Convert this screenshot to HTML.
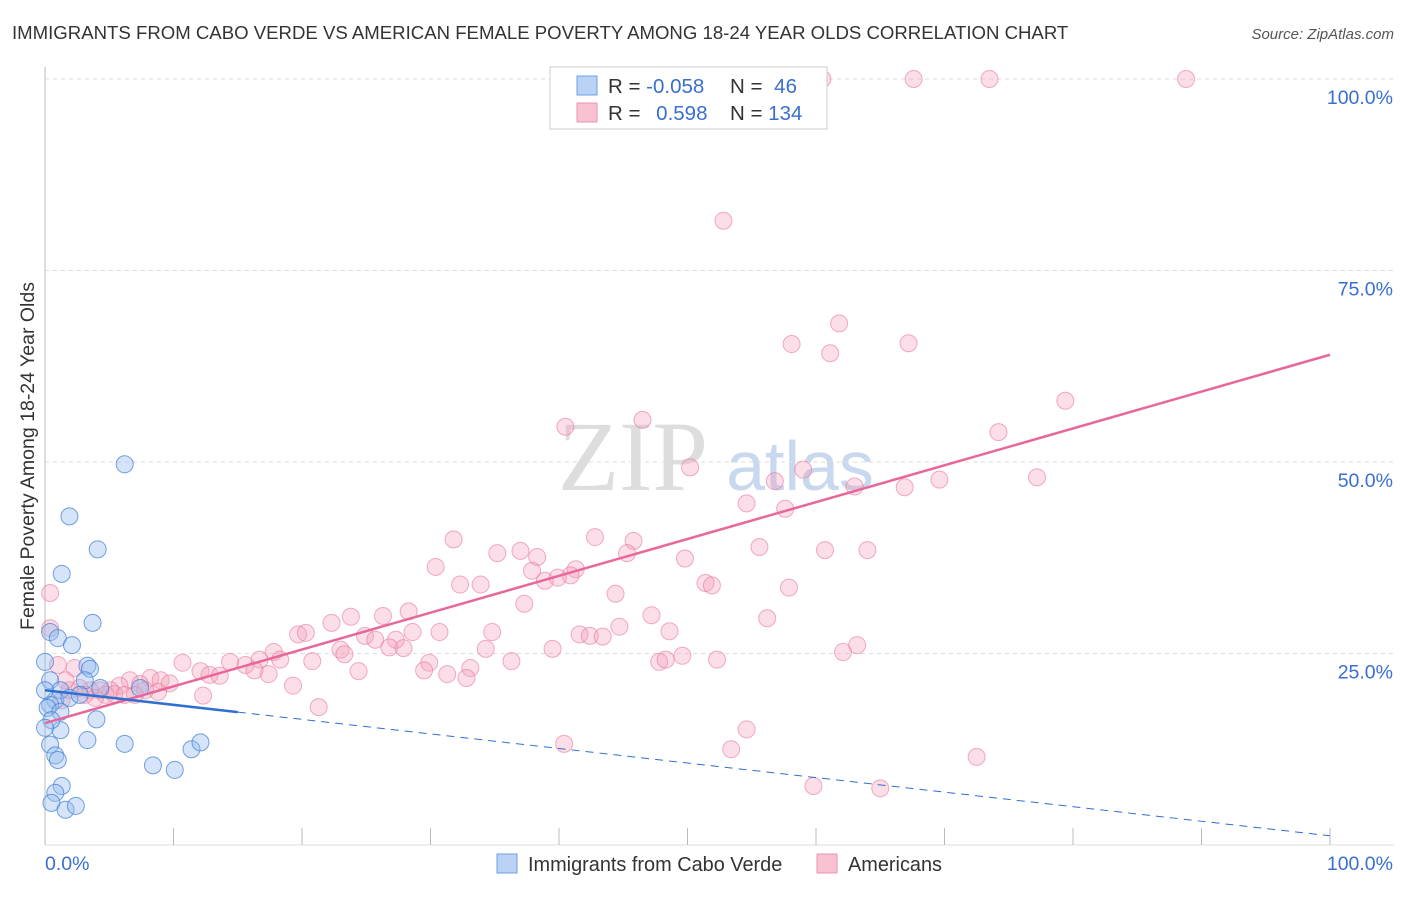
<!DOCTYPE html>
<html><head><meta charset="utf-8"><style>
body{margin:0;background:#fff;font-family:"Liberation Sans",sans-serif}
</style></head><body>
<svg id="c" width="1406" height="892" xmlns="http://www.w3.org/2000/svg">
<text x="12" y="39" font-size="18.6" fill="#333">IMMIGRANTS FROM CABO VERDE VS AMERICAN FEMALE POVERTY AMONG 18-24 YEAR OLDS CORRELATION CHART</text>
<text x="1394" y="39" font-size="15" fill="#555" font-style="italic" text-anchor="end">Source: ZipAtlas.com</text>
<text x="633" y="490" font-size="100" fill="#ddd" font-family="Liberation Serif,serif" text-anchor="middle">ZIP</text>
<text x="800" y="490" font-size="70" fill="#c8d8ee" text-anchor="middle">atlas</text>
<text transform="translate(34,456) rotate(-90)" font-size="19.5" fill="#333" text-anchor="middle">Female Poverty Among 18-24 Year Olds</text>
<g id="grid"></g><g id="pts"></g><g id="lines"></g>
<g>
<rect x="550" y="67" width="277" height="62" fill="#fff" stroke="#ccc"/>
<rect x="577" y="76" width="20" height="19" fill="#b9d2f5" stroke="#6f9fe0"/>
<rect x="577" y="103" width="20" height="19" fill="#f8c2d2" stroke="#ec93b0"/>
<text x="608" y="93" font-size="20.5" fill="#333">R = <tspan fill="#3a6fcf">-0.058</tspan></text>
<text x="730" y="93" font-size="20.5" fill="#333">N = <tspan fill="#3a6fcf" dx="6">46</tspan></text>
<text x="608" y="120" font-size="20.5" fill="#333">R = <tspan fill="#3a6fcf" dx="10">0.598</tspan></text>
<text x="730" y="120" font-size="20.5" fill="#333">N = <tspan fill="#3a6fcf">134</tspan></text>
</g>
<g>
<rect x="497" y="854" width="20" height="19" fill="#b9d2f5" stroke="#6f9fe0"/>
<text x="528" y="871" font-size="19.9" fill="#333">Immigrants from Cabo Verde</text>
<rect x="817" y="854" width="20" height="19" fill="#f8c2d2" stroke="#ec93b0"/>
<text x="848" y="871" font-size="19.9" fill="#333">Americans</text>
</g>
</svg>
<script>
const blueX=[6.2,1.9,4.1,1.3,3.7,0.4,1.0,2.1,0,3.3,3.5,0.4,1.2,0.8,0.4,1.9,0.2,1.2,4.0,1.2,6.2,3.3,0.4,0.8,1.0,11.4,12.1,8.4,10.1,1.3,0.8,0.5,1.6,2.4,4.3,7.4,3.1,0,0.5,0,2.7];
const blueY=[49.7,42.9,38.6,35.4,29.0,27.8,27.0,26.1,23.9,23.4,23.0,21.5,20.2,18.9,18.3,19.2,17.9,17.4,16.4,15.0,13.2,13.7,13.1,11.7,11.1,12.5,13.4,10.4,9.8,7.7,6.8,5.5,4.6,5.1,20.5,20.5,21.5,20.2,16.3,15.3,19.6];
const pinkX=[60.5,67.6,73.5,88.8,52.8,61.8,58.1,61.1,67.2,79.4,46.5,40.5,74.2,50.2,59.0,63.0,56.8,69.6,77.2,66.9,54.6,57.6,31.8,42.8,45.8,35.2,37.0,38.3,45.3,55.6,60.7,64.0,49.8,30.4,37.9,41.3,40.9,32.3,33.9,38.9,39.9,51.4,51.9,57.9,44.4,37.3,28.3,26.3,23.8,47.2,56.2,22.3,19.7,20.3,28.6,30.7,34.8,41.6,42.4,43.4,44.7,48.6,24.9,25.7,27.3,26.8,27.9,23.0,23.3,34.3,39.5,63.2,62.1,49.6,47.8,48.3,52.3,36.3,29.9,17.8,18.3,16.7,20.8,33.1,29.5,24.4,15.6,14.4,10.7,12.1,12.8,13.6,31.3,32.8,17.4,16.3,19.3,8.2,9.0,9.7,6.6,7.4,5.8,5.1,4.3,3.5,2.7,4.7,5.4,6.2,8.8,12.3,1.9,1.6,1.0,0.4,0.4,2.3,3.1,3.9,21.3,40.4,54.6,53.4,72.5,59.8,65.0,7.0,7.8,1.3];
const pinkY=[100,100,100,100,81.5,68.1,65.4,64.2,65.5,58.0,55.5,54.6,53.9,49.3,49.0,46.8,47.5,47.7,48.0,46.7,44.6,43.9,39.9,40.2,39.7,38.1,38.4,37.6,38.1,38.9,38.5,38.5,37.4,36.3,35.8,36.0,35.2,34.0,34.0,34.5,34.9,34.2,33.9,33.6,32.8,31.5,30.5,29.9,29.8,30.0,29.6,29.0,27.5,27.7,27.8,27.8,27.8,27.5,27.3,27.2,28.5,27.9,27.3,26.8,26.8,25.8,25.7,25.5,24.9,25.6,25.6,26.1,25.2,24.7,23.9,24.2,24.2,24.0,23.8,25.2,24.2,24.2,24.0,23.1,22.8,22.7,23.5,23.9,23.8,22.7,22.2,22.1,22.3,21.8,22.3,22.8,20.8,21.8,21.5,21.1,21.5,21.0,20.8,20.2,20.2,20.2,20.5,19.6,19.7,19.6,20.0,19.5,20.2,21.5,23.5,28.3,32.9,23.1,19.6,19.2,18.0,13.2,15.1,12.5,11.5,7.7,7.4,19.6,20.2,18.9];
const yTicks=[25,50,75,100];
const xTicks=[0,10,20,30,40,50,60,70,80,90,100];
const blueTrend=[20.2,-0.19], pinkTrend=[15.9,0.481];
const NS="http://www.w3.org/2000/svg";
const sx=v=>45+v*12.85, sy=v=>845-v*7.66;
function mk(tag,attrs,parent){const e=document.createElementNS(NS,tag);for(const k in attrs)e.setAttribute(k,attrs[k]);parent.appendChild(e);return e;}
const grid=document.getElementById('grid'),pts=document.getElementById('pts'),lines=document.getElementById('lines'),svg=document.getElementById('c');
mk('line',{x1:45,y1:67,x2:45,y2:845,stroke:'#bbb'},grid);
mk('line',{x1:45,y1:845,x2:1394,y2:845,stroke:'#ddd'},grid);
yTicks.forEach(t=>{
 const l=mk('line',{x1:45,y1:sy(t),x2:1394,y2:sy(t),stroke:'#ddd','stroke-dasharray':'4,4'},grid);
 
 
 const tx=mk('text',{x:1393,y:sy(t)+25,'font-size':19.5,fill:'#3a6fcf','text-anchor':'end'},svg);
 tx.textContent=t+'.0%';
 
 
});
xTicks.forEach(t=>{
 const l=mk('line',{x1:sx(t),y1:828,x2:sx(t),y2:845,stroke:'#bbb'},grid);
 
 
});
[[45,'0.0%','start'],[1393,'100.0%','end']].forEach(([x,s,a])=>{
 const tx=mk('text',{x:x,y:870,'font-size':19.5,fill:'#3a6fcf','text-anchor':a},svg);
 tx.textContent=s;
 
 
});
pinkX.forEach((x,i)=>{
 const c=mk('circle',{cx:sx(x),cy:sy(pinkY[i]),r:8.5,fill:'rgba(244,160,186,0.35)',stroke:'rgba(232,120,156,0.6)','stroke-width':1},pts);
 
 
});
blueX.forEach((x,i)=>{
 const c=mk('circle',{cx:sx(x),cy:sy(blueY[i]),r:8.5,fill:'rgba(150,188,238,0.4)',stroke:'rgba(70,130,215,0.75)','stroke-width':1},pts);
 
 
});
const pl=mk('line',{x1:sx(0),y1:sy(pinkTrend[0]),x2:sx(100),y2:sy(pinkTrend[0]+100*pinkTrend[1]),stroke:'#e8679a','stroke-width':2.5},lines);


const bl=mk('line',{x1:sx(0),y1:sy(blueTrend[0]),x2:sx(15),y2:sy(blueTrend[0]+15*blueTrend[1]),stroke:'#2f6fd0','stroke-width':2.5},lines);


const bd=mk('line',{x1:sx(15),y1:sy(blueTrend[0]+15*blueTrend[1]),x2:sx(100),y2:sy(blueTrend[0]+100*blueTrend[1]),stroke:'#2f6fd0','stroke-width':1,'stroke-dasharray':'8,6'},lines);


</script>
</body></html>
